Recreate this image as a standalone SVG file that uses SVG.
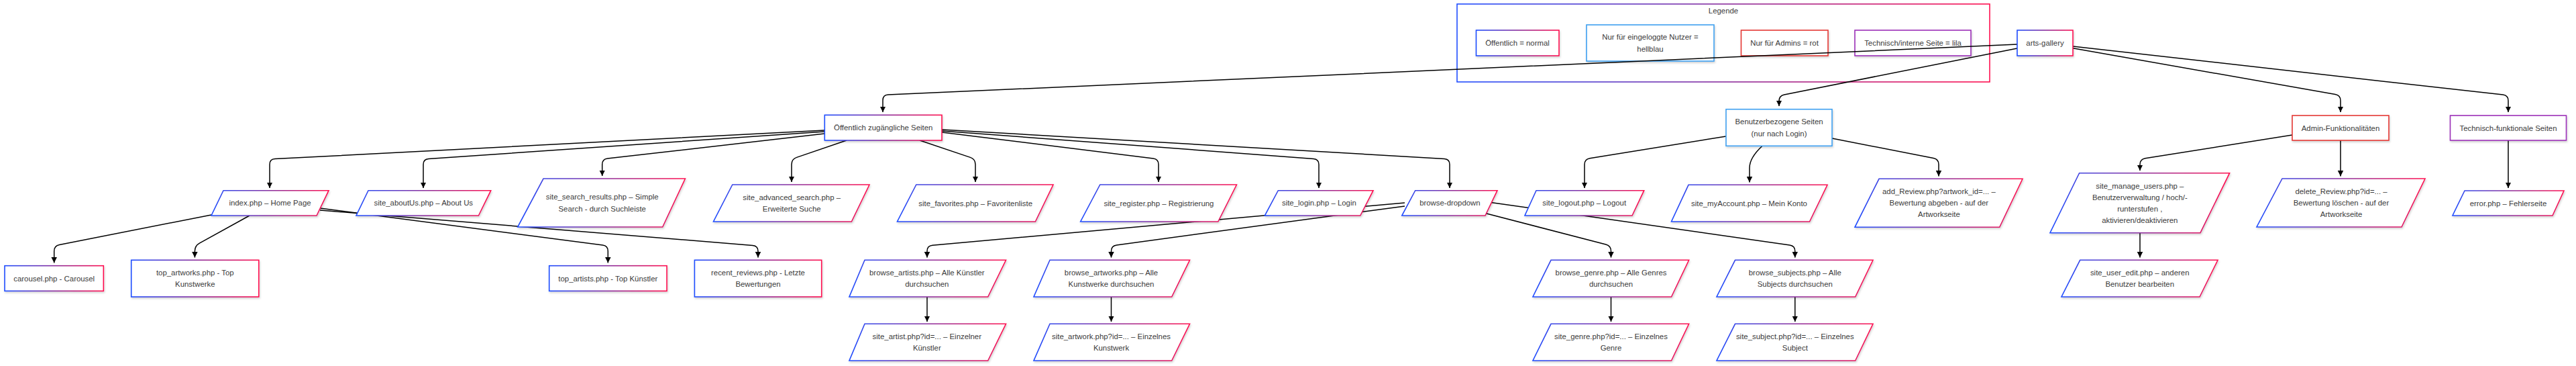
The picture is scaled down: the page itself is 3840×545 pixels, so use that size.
<svg xmlns="http://www.w3.org/2000/svg" width="3840" height="545" viewBox="0 0 3840 545">
<defs>
<linearGradient id="grad" x1="0" y1="0" x2="1" y2="0">
<stop offset="0" stop-color="#1f4dff"/>
<stop offset="0.5" stop-color="#8a2f9e"/>
<stop offset="1" stop-color="#ff1050"/>
</linearGradient>
<filter id="sh" x="-10%" y="-20%" width="120%" height="150%">
<feDropShadow dx="1" dy="2" stdDeviation="1.5" flood-color="#000" flood-opacity="0.18"/>
</filter>
<marker id="arr" viewBox="0 0 10 10" refX="10" refY="5" markerWidth="8.5" markerHeight="8.5" markerUnits="userSpaceOnUse" orient="auto">
<path d="M0,0 L10,5 L0,10 z" fill="#000"/>
</marker>
<style>
.n { fill:#fff; stroke:url(#grad); stroke-width:1.6; filter:url(#sh); }
.lb { fill:#fff; stroke:#3fa0f0; stroke-width:1.6; filter:url(#sh); }
.rd { fill:#fff; stroke:#e53935; stroke-width:1.6; filter:url(#sh); }
.pu { fill:#fff; stroke:#9c30b8; stroke-width:1.6; filter:url(#sh); }
.lg { fill:none; stroke:url(#grad); stroke-width:1.6; }
.t { font-family:"Liberation Sans", Arial, sans-serif; font-size:11.4px; fill:#3a3a3a; text-anchor:middle; dominant-baseline:central; }
.e { fill:none; stroke:#000; stroke-width:1.5; marker-end:url(#arr); }
</style>
</defs>
<rect width="3840" height="545" fill="#fff"/>

<g id="legend">
<rect class="lg" x="2172" y="6" width="794" height="116"/>
<text class="t" x="2569" y="16">Legende</text>
<g id="legend-public"><rect class="n" x="2200.5" y="45" width="123.5" height="38"/><text class="t" x="2262" y="64">Öffentlich = normal</text></g>
<g id="legend-user"><rect class="lb" x="2365" y="37" width="190" height="54"/><text class="t" x="2460" y="55.3">Nur für eingeloggte Nutzer =</text><text class="t" x="2460" y="72.7">hellblau</text></g>
<g id="legend-admin"><rect class="rd" x="2595.5" y="45" width="129.5" height="38"/><text class="t" x="2660" y="64">Nur für Admins = rot</text></g>
<g id="legend-tech"><rect class="pu" x="2765" y="45" width="173" height="38"/><text class="t" x="2851.5" y="64">Technisch/interne Seite = lila</text></g>
</g>

<g id="connectors">
<path class="e" d="M3007,66 L1324,141.1 Q1316,141.5 1316,149.5 L1316,167"/>
<path class="e" d="M3007,72 L2659.8,140.9 Q2652,142.5 2652,150.5 L2652,158"/>
<path class="e" d="M3090,71.7 L3481.1,140.6 Q3489,142 3489,150 L3489,167"/>
<path class="e" d="M3090,69 L3731,141.1 Q3739,142 3739,150 L3739,167"/>
<path class="e" d="M1229,194 L410,236.6 Q402,237 402,245 L402,280"/>
<path class="e" d="M1229,196 L639,236.5 Q631,237 631,245 L631,280"/>
<path class="e" d="M1229,199 L905.6,236.1 Q897.7,237 897.7,245 L897.7,262"/>
<path class="e" d="M1262,209 L1187.6,234.4 Q1180,237 1180,245 L1180,271"/>
<path class="e" d="M1371,209 L1446.4,234.4 Q1454,237 1454,245 L1454,271"/>
<path class="e" d="M1404,197 L1719.1,236 Q1727,237 1727,245 L1727,271"/>
<path class="e" d="M1404,195 L1958,236.4 Q1966,237 1966,245 L1966,280"/>
<path class="e" d="M1404,193 L2153,236.5 Q2161,237 2161,245 L2161,280"/>
<path class="e" d="M2573,203 L2369.9,235.7 Q2362,237 2362,245 L2362,280"/>
<path class="e" d="M2627,217.3 Q2608,235 2608,250 L2608,271.5"/>
<path class="e" d="M2731,206 L2882.1,235.5 Q2890,237 2890,245 L2890,262.5"/>
<path class="e" d="M3417,201 L3197.9,235.7 Q3190,237 3190,245 L3190,254"/>
<path class="e" d="M3489,209 L3489,262.5"/>
<path class="e" d="M3739,209 L3739,280"/>
<path class="e" d="M315,320 L88.6,364.5 Q80.7,366 80.7,374 L80.7,391.5"/>
<path class="e" d="M372,321 L297.4,362.1 Q290.4,366 290.4,374 L290.4,383.5"/>
<path class="e" d="M477,310 L898.4,365 Q906.3,366 906.3,374 L906.3,391.5"/>
<path class="e" d="M477,313 L1122,365.4 Q1130,366 1130,374 L1130,383.5"/>
<path class="e" d="M2094,302 L1390,365.3 Q1382,366 1382,374 L1382,383.5"/>
<path class="e" d="M2094,307 L1664.4,364.9 Q1656.5,366 1656.5,374 L1656.5,383.5"/>
<path class="e" d="M2216,318 L2393.8,364 Q2401.5,366 2401.5,374 L2401.5,383.5"/>
<path class="e" d="M2219,301 L2667.9,364.9 Q2675.8,366 2675.8,374 L2675.8,383.5"/>
<path class="e" d="M3190,346.7 L3190,383.5"/>
<path class="e" d="M1382,442 L1382,479"/>
<path class="e" d="M1656.5,442 L1656.5,479"/>
<path class="e" d="M2401.5,442 L2401.5,479"/>
<path class="e" d="M2675.8,442 L2675.8,479"/>
</g>

<g id="arts-gallery"><rect class="n" x="3007" y="45" width="83" height="38"/><text class="t" x="3048.5" y="64">arts-gallery</text></g>
<g id="oeffentlich"><rect class="n" x="1229.3" y="171.3" width="174.7" height="37.7"/><text class="t" x="1316.7" y="190.2">Öffentlich zugängliche Seiten</text></g>
<g id="benutzer"><rect class="lb" x="2573" y="162.7" width="158" height="54.6"/><text class="t" x="2652" y="181.3">Benutzerbezogene Seiten</text><text class="t" x="2652" y="198.7">(nur nach Login)</text></g>
<g id="admin"><rect class="rd" x="3417" y="172" width="144" height="37"/><text class="t" x="3489" y="190.5">Admin-Funktionalitäten</text></g>
<g id="technisch"><rect class="pu" x="3652.5" y="172" width="173" height="37"/><text class="t" x="3739" y="190.5">Technisch-funktionale Seiten</text></g>

<g id="index"><polygon class="n" points="333,283.7 490,283.7 472,321 315,321"/><text class="t" x="402.5" y="302.4">index.php – Home Page</text></g>
<g id="aboutus"><polygon class="n" points="549,283.7 731.7,283.7 713.4,321 531,321"/><text class="t" x="631.3" y="302.4">site_aboutUs.php – About Us</text></g>
<g id="search"><polygon class="n" points="810,266 1021.4,266 987.7,338 771.7,338"/><text class="t" x="897.7" y="293.3">site_search_results.php – Simple</text><text class="t" x="897.7" y="310.7">Search - durch Suchleiste</text></g>
<g id="advanced"><polygon class="n" points="1091.8,275 1296,275 1269.4,330 1063.5,330"/><text class="t" x="1180.2" y="293.9">site_advanced_search.php –</text><text class="t" x="1180.2" y="311.1">Erweiterte Suche</text></g>
<g id="favorites"><polygon class="n" points="1365.8,275 1570,275 1543.4,330 1337.5,330"/><text class="t" x="1454.2" y="302.5">site_favorites.php – Favoritenliste</text></g>
<g id="register"><polygon class="n" points="1639.8,275 1843.4,275 1815.8,330 1610.7,330"/><text class="t" x="1727.4" y="302.5">site_register.php – Registrierung</text></g>
<g id="login"><polygon class="n" points="1905.3,283.7 2047,283.7 2027.8,321 1885.4,321"/><text class="t" x="1966.4" y="302.4">site_login.php – Login</text></g>
<g id="browse"><polygon class="n" points="2109.7,283.7 2232,283.7 2214,321 2089.8,321"/><text class="t" x="2161.4" y="302.4">browse-dropdown</text></g>
<g id="logout"><polygon class="n" points="2290,283.7 2450.7,283.7 2433,321 2273,321"/><text class="t" x="2361.7" y="302.4">site_logout.php – Logout</text></g>
<g id="myaccount"><polygon class="n" points="2517,275.3 2724,275.3 2697.5,330 2491.5,330"/><text class="t" x="2607.5" y="302.7">site_myAccount.php – Mein Konto</text></g>
<g id="addreview"><polygon class="n" points="2801,266.3 3015,266.3 2980.7,338.3 2765,338.3"/><text class="t" x="2890.4" y="285.3">add_Review.php?artwork_id=... –</text><text class="t" x="2890.4" y="302.3">Bewertung abgeben - auf der</text><text class="t" x="2890.4" y="319.3">Artworkseite</text></g>
<g id="manageusers"><polygon class="n" points="3099.6,257.7 3323.6,257.7 3280,346.7 3056,346.7"/><text class="t" x="3189.8" y="276.5">site_manage_users.php –</text><text class="t" x="3189.8" y="293.8">Benutzerverwaltung / hoch/-</text><text class="t" x="3189.8" y="311.1">runterstufen ,</text><text class="t" x="3189.8" y="328.4">aktivieren/deaktivieren</text></g>
<g id="deletereview"><polygon class="n" points="3402,266 3615,266 3580,338 3364,338"/><text class="t" x="3490" y="285">delete_Review.php?id=... –</text><text class="t" x="3490" y="302">Bewertung löschen - auf der</text><text class="t" x="3490" y="319">Artworkseite</text></g>
<g id="error"><polygon class="n" points="3674,284 3822,284 3805,321 3656,321"/><text class="t" x="3739" y="302.5">error.php – Fehlerseite</text></g>

<g id="carousel"><rect class="n" x="7" y="395.7" width="147.3" height="37.6"/><text class="t" x="80.7" y="414.5">carousel.php - Carousel</text></g>
<g id="topartworks"><rect class="n" x="195.7" y="387.3" width="190.1" height="54.7"/><text class="t" x="290.8" y="406">top_artworks.php - Top</text><text class="t" x="290.8" y="423.3">Kunstwerke</text></g>
<g id="topartists"><rect class="n" x="818.7" y="395.7" width="175.3" height="37.6"/><text class="t" x="906.3" y="414.5">top_artists.php - Top Künstler</text></g>
<g id="recentreviews"><rect class="n" x="1035.4" y="387.3" width="189.3" height="54.7"/><text class="t" x="1130" y="406">recent_reviews.php - Letzte</text><text class="t" x="1130" y="423.3">Bewertungen</text></g>
<g id="browseartists"><polygon class="n" points="1289,387.3 1499.5,387.3 1472.7,442 1266,442"/><text class="t" x="1381.8" y="406">browse_artists.php – Alle Künstler</text><text class="t" x="1381.8" y="423.3">durchsuchen</text></g>
<g id="browseartworks"><polygon class="n" points="1565,387.3 1773.5,387.3 1746.7,442 1541,442"/><text class="t" x="1656.5" y="406">browse_artworks.php – Alle</text><text class="t" x="1656.5" y="423.3">Kunstwerke durchsuchen</text></g>
<g id="browsegenre"><polygon class="n" points="2312,387.3 2517.6,387.3 2491.5,442 2285,442"/><text class="t" x="2401.5" y="406">browse_genre.php – Alle Genres</text><text class="t" x="2401.5" y="423.3">durchsuchen</text></g>
<g id="browsesubjects"><polygon class="n" points="2586.5,387.3 2792,387.3 2765.7,442 2559,442"/><text class="t" x="2675.8" y="406">browse_subjects.php – Alle</text><text class="t" x="2675.8" y="423.3">Subjects durchsuchen</text></g>
<g id="useredit"><polygon class="n" points="3100.7,387.3 3306,387.3 3279,442 3073,442"/><text class="t" x="3189.7" y="406">site_user_edit.php – anderen</text><text class="t" x="3189.7" y="423.3">Benutzer bearbeiten</text></g>
<g id="siteartist"><polygon class="n" points="1289,482.3 1499.5,482.3 1472.7,537 1266,537"/><text class="t" x="1381.8" y="501">site_artist.php?id=... – Einzelner</text><text class="t" x="1381.8" y="518.3">Künstler</text></g>
<g id="siteartwork"><polygon class="n" points="1565,482.3 1773.5,482.3 1746.7,537 1541,537"/><text class="t" x="1656.5" y="501">site_artwork.php?id=... – Einzelnes</text><text class="t" x="1656.5" y="518.3">Kunstwerk</text></g>
<g id="sitegenre"><polygon class="n" points="2312,482.3 2517.6,482.3 2491.5,537 2285,537"/><text class="t" x="2401.5" y="501">site_genre.php?id=... – Einzelnes</text><text class="t" x="2401.5" y="518.3">Genre</text></g>
<g id="sitesubject"><polygon class="n" points="2586.5,482.3 2792,482.3 2765.7,537 2559,537"/><text class="t" x="2675.8" y="501">site_subject.php?id=... – Einzelnes</text><text class="t" x="2675.8" y="518.3">Subject</text></g>
</svg>
